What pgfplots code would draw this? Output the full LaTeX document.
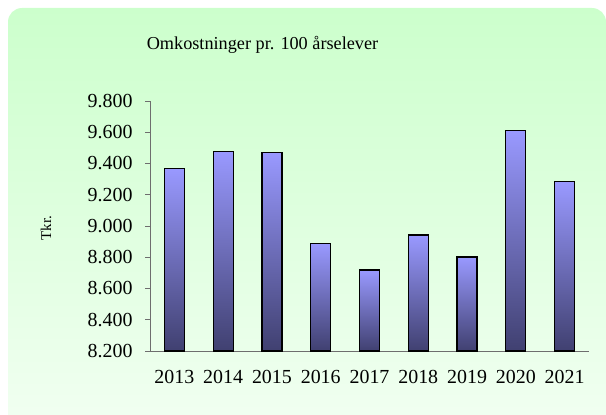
\documentclass[border=0pt]{standalone}
\usepackage{fontspec}
\setmainfont{Liberation Serif}
\usepackage{pgfplots}
\pgfplotsset{compat=1.18}

\definecolor{bgtop}{RGB}{204,255,204}
\definecolor{bgbot}{RGB}{242,255,242}
\definecolor{bartop}{RGB}{153,153,255}
\definecolor{barbot}{RGB}{64,64,112}
\definecolor{axgray}{RGB}{110,110,110}

\pgfplotsset{mybar/.style={ybar, bar width=20bp, draw=black, solid,
    line width=1.3bp, top color=bartop, bottom color=barbot, mark=none}}

\begin{document}
\begin{tikzpicture}[x=1bp,y=1bp]
\useasboundingbox (0,0) rectangle (606,414);
\clip (0,0) rectangle (606,414);
% panel behind the chart
\shade[top color=bgtop, bottom color=bgbot, rounded corners=14bp]
  (8,-20) rectangle (606,406);

\node[font=\fontsize{18.3}{21}\selectfont] at (262.5,369) {Omkostninger pr. 100 årselever};
\node[font=\fontsize{15}{17}\selectfont, rotate=90] at (46,186) {Tkr.};

\begin{axis}[
    at={(150bp,63bp)}, anchor=south west,
    scale only axis,
    width=439bp, height=250bp,
    xmin=-0.5, xmax=8.5,
    ymin=8200, ymax=9800,
    ytick distance=200,
    axis lines*=left,
    axis line style={axgray, line width=0.8bp},
    every tick/.style={axgray, line width=0.8bp},
    tick align=outside,
    major tick length=5bp,
    xtick={0,...,8},
    xticklabels={2013,2014,2015,2016,2017,2018,2019,2020,2021},
    x tick style={draw=none},
    extra x ticks={-0.5,0.5,...,8.5},
    extra x tick labels={},
    extra x tick style={tick style={axgray, line width=0.8bp}},
    ticklabel style={font=\fontsize{20}{22}\selectfont},
    /pgf/number format/.cd, 1000 sep={.}, assume math mode=true,
    /pgfplots/.cd,
    yticklabel style={/pgf/number format/fixed, xshift=-9bp},
    xticklabel style={yshift=-11bp},
    clip=false,
]
% one plot per bar so that each bar gets its own gradient
\addplot[mybar] coordinates {(0, 9367)};
\addplot[mybar] coordinates {(1, 9478)};
\addplot[mybar] coordinates {(2, 9472)};
\addplot[mybar] coordinates {(3, 8887)};
\addplot[mybar] coordinates {(4, 8718)};
\addplot[mybar] coordinates {(5, 8942)};
\addplot[mybar] coordinates {(6, 8802)};
\addplot[mybar] coordinates {(7, 9610)};
\addplot[mybar] coordinates {(8, 9283)};
\end{axis}
\end{tikzpicture}
\end{document}
